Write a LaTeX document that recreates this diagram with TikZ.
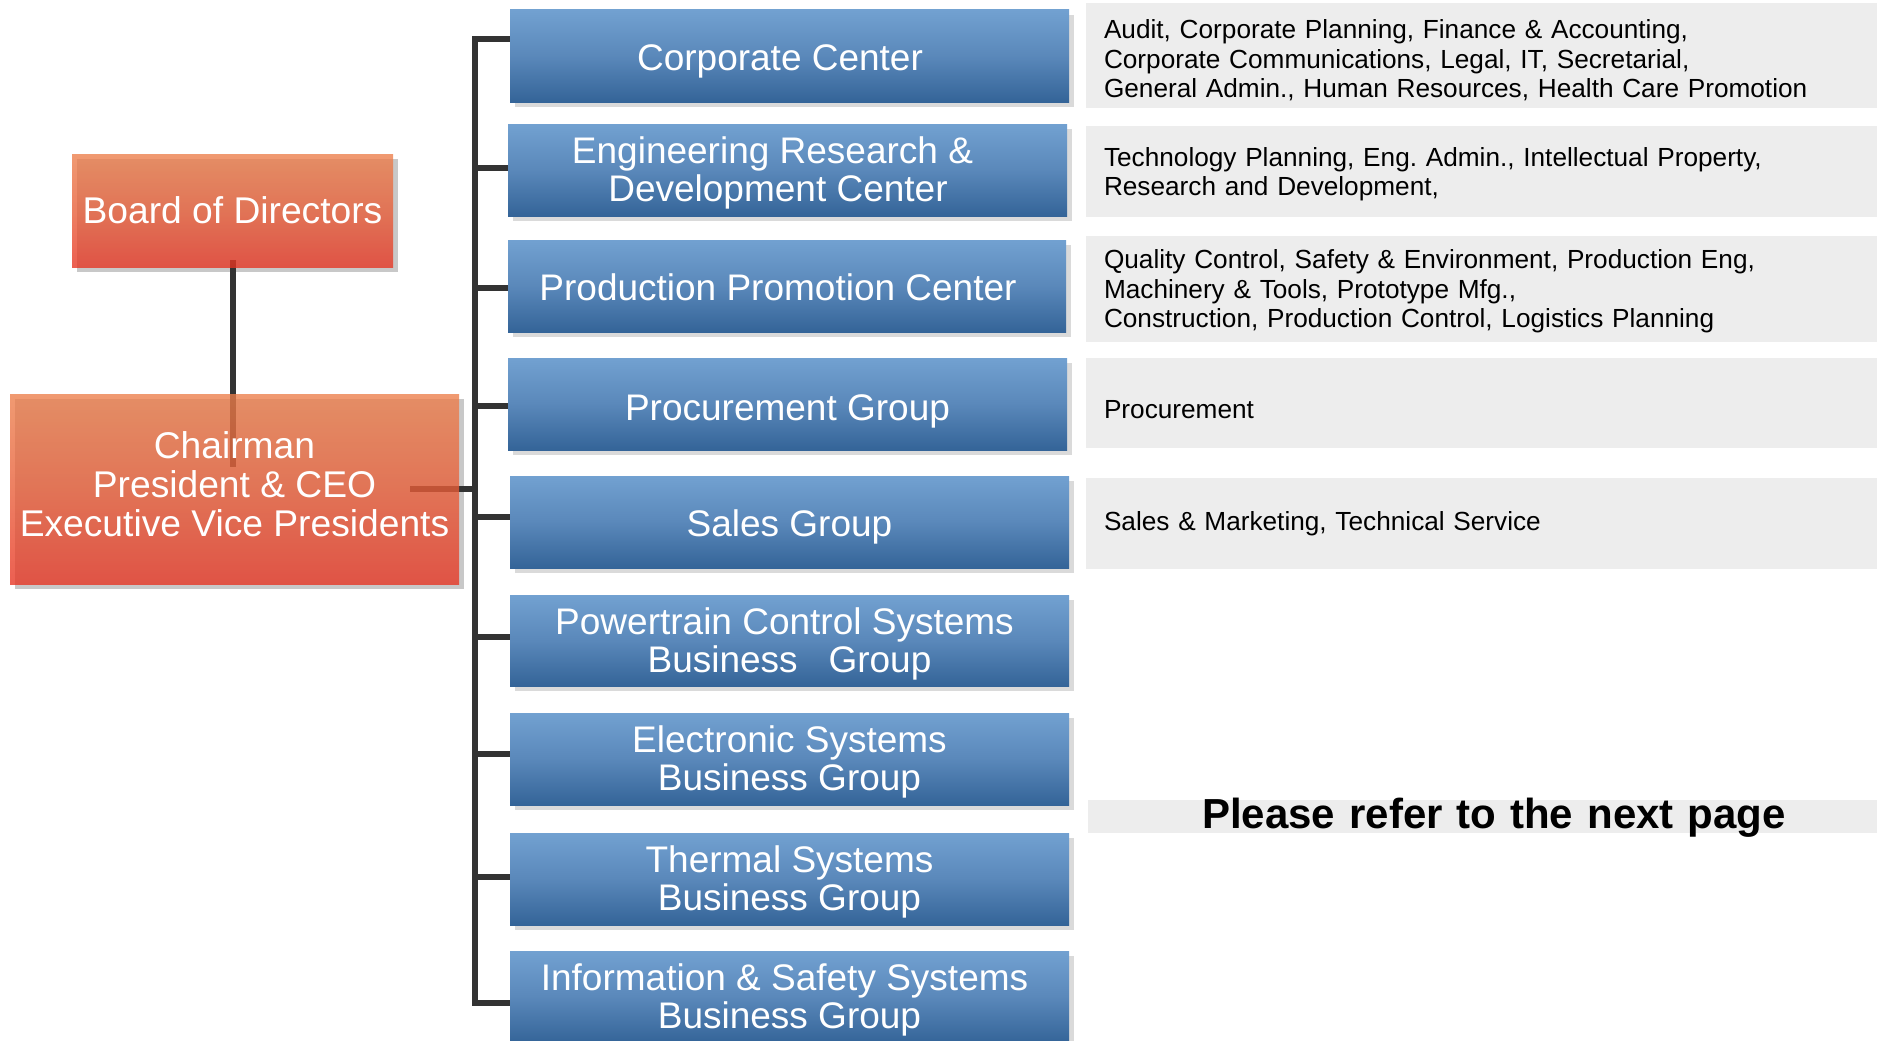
\documentclass[tikz,border=0pt]{standalone}
\usepackage{fontspec}
\setmainfont{Liberation Sans}
\usetikzlibrary{calc}
\pgfdeclarelayer{bglayer}
\pgfdeclarelayer{shadowlayer}
\pgfdeclarelayer{linelayer}
\pgfsetlayers{bglayer,shadowlayer,linelayer,main}
\definecolor{bluetop}{RGB}{114,161,209}
\definecolor{bluemid}{RGB}{90,136,186}
\definecolor{bluebot}{RGB}{52,100,152}
\definecolor{orgtop}{RGB}{236,126,74}
\definecolor{orgmid}{RGB}{233,93,55}
\definecolor{orgbot}{RGB}{231,51,33}
\definecolor{greybox}{RGB}{237,237,237}
\definecolor{connc}{RGB}{51,51,51}
\definecolor{shadowblue}{RGB}{218,218,218}
\definecolor{shadoworg}{RGB}{200,200,200}
\newcommand{\tallstrut}[1]{\rule{0pt}{#1pt}}
\newcommand{\deepstrut}[1]{\rule[-#1pt]{0pt}{#1pt}}
\begin{document}
\frenchspacing
\begin{tikzpicture}[x=1pt,y=-1pt,
  box/.style={rectangle, inner sep=0pt, outer sep=0pt, anchor=north west, align=center, text=white},
  bluebox/.style={box, top color=bluetop, bottom color=bluebot, middle color=bluemid,
     minimum width=559pt, minimum height=92pt, font=\fontsize{37}{38}\selectfont},
  orgbox/.style={box, top color=orgtop, bottom color=orgbot, middle color=orgmid,
     fill opacity=0.78, text opacity=1, font=\fontsize{37.2}{39}\selectfont},
  greyb/.style={rectangle, fill=greybox, inner xsep=18pt, inner ysep=0pt, outer sep=0pt,
     anchor=north west, align=left, text width=755pt, minimum width=791pt,
     font=\fontsize{26.2}{29.5}\selectfont, text=black},
  onel/.style={text depth=0pt},
  conn/.style={draw=connc, line width=6pt},
]
\useasboundingbox (0,0) rectangle (1877,1041);
\begin{pgfonlayer}{bglayer}
\fill[white] (0,0) rectangle (1877,1041);
\end{pgfonlayer}

% orange boxes
\node[orgbox, onel, minimum width=321pt, minimum height=113pt] (bod) at (72,154) {Board of Directors};
\node[orgbox, minimum width=449pt, minimum height=190pt] (ceo) at (10,394)
  {Chairman\\President \& CEO\\Executive Vice Presidents\deepstrut{10}};

% blue boxes
\node[bluebox, onel] (cc) at (510,10) {\tallstrut{29}Corporate Center\hspace*{19pt}};
\node[bluebox] (erd) at (508,124) {\tallstrut{33}Engineering Research \&\hspace*{30pt}\\Development Center\hspace*{19pt}};
\node[bluebox, onel, minimum width=558pt] (ppc) at (508,240) {\tallstrut{29}Production Promotion Center\hspace*{18pt}};
\node[bluebox, onel] (proc) at (508,358) {\tallstrut{33}Procurement Group};
\node[bluebox, onel] (sales) at (510,476) {\tallstrut{29}Sales Group};
\node[bluebox, minimum height=91pt] (pcs) at (510,595) {\tallstrut{33}Powertrain Control Systems\hspace*{10pt}\\Business\ \ \ Group};
\node[bluebox] (esb) at (510,713) {\tallstrut{32}Electronic Systems\\Business Group};
\node[bluebox] (tsb) at (510,833) {\tallstrut{32}Thermal Systems\\Business Group};
\node[bluebox] (isb) at (510,951) {\tallstrut{33}Information \& Safety Systems\hspace*{10pt}\\Business Group};

% grey description boxes
\node[greyb, minimum height=105pt] (g1) at (1086,3)
  {\tallstrut{29}Audit, Corporate Planning, Finance \& Accounting,\\Corporate Communications, Legal, IT, Secretarial,\\General Admin., Human Resources, Health Care Promotion};
\node[greyb, minimum height=91pt] (g2) at (1086,126)
  {\tallstrut{24}Technology Planning, Eng. Admin., Intellectual Property,\\Research and Development,};
\node[greyb, minimum height=106pt] (g3) at (1086,236)
  {\tallstrut{24}Quality Control, Safety \& Environment, Production Eng,\\Machinery \& Tools, Prototype Mfg.,\\Construction, Production Control, Logistics Planning};
\node[greyb, minimum height=90pt] (g4) at (1086,358) {\tallstrut{31}Procurement};
\node[greyb, minimum height=91pt] (g5) at (1086,478) {Sales \& Marketing, Technical Service};
\node[rectangle, fill=greybox, inner sep=0pt, outer sep=0pt, anchor=north west,
      text width=789pt, align=center, text height=28pt, text depth=5pt,
      font=\bfseries\fontsize{42}{42}\selectfont] (note) at (1088,800)
  {\hspace*{23pt}Please refer to the next page};

% shadows
\begin{pgfonlayer}{shadowlayer}
\foreach \n in {cc,erd,ppc,proc,sales,pcs,esb,tsb,isb}
  \fill[shadowblue] ([shift={(5,5)}]\n.north west) rectangle ([shift={(5,5)}]\n.south east);
\foreach \n in {bod,ceo}
  \fill[shadoworg] ([shift={(5,5)}]\n.north west) rectangle ([shift={(5,5)}]\n.south east);
\end{pgfonlayer}

% connectors
\begin{pgfonlayer}{linelayer}
\coordinate (bustop) at (475,39);
\coordinate (busbot) at (475,1003);
\draw[conn] ([yshift=7pt]bod.south) -- ++(0,207);
\draw[conn] ([xshift=-49pt]ceo.east) -- (ceo.east -| bustop);
\draw[conn] ([yshift=17pt]cc.west) -- (bustop) -- (busbot) -- ([yshift=-6pt]isb.west);
\draw[conn] ([yshift=2pt]erd.west) -- ++(-33,0);
\draw[conn] ([yshift=-2pt]ppc.west) -- ++(-33,0);
\draw[conn] ([yshift=-2pt]proc.west) -- ++(-33,0);
\draw[conn] ([yshift=5pt]sales.west) -- ++(-35,0);
\draw[conn] ([yshift=3.5pt]pcs.west) -- ++(-35,0);
\draw[conn] ([yshift=5pt]esb.west) -- ++(-35,0);
\draw[conn] ([yshift=2pt]tsb.west) -- ++(-35,0);
\end{pgfonlayer}
\end{tikzpicture}
\end{document}
